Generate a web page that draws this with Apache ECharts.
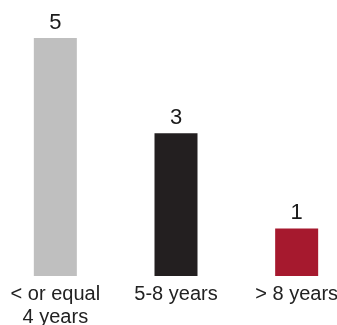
<!DOCTYPE html>
<html>
<head>
<meta charset="utf-8">
<script src="https://cdn.jsdelivr.net/npm/echarts@6/dist/echarts.min.js"></script>
<style>
  html, body { margin: 0; padding: 0; background: #fff; }
  #container { width: 337px; height: 325px; }
</style>
</head>
<body>
<div id="container"></div>
<script>
var categories = ['< or equal\n4 years', '5-8 years', '> 8 years'];
var values = [5, 3, 1];
var barColors = ['#bfbfbf', '#231f20', '#a6192e'];

var dom = document.getElementById('container');
var myChart = echarts.init(dom);

var option = {
    animation: false,
    textStyle: { fontFamily: '"Liberation Sans", Arial, sans-serif' },
    grid: {
        left: -5,
        right: -20,
        top: 38,
        bottom: 49,
        outerBoundsMode: 'none'
    },
    xAxis: {
        type: 'category',
        data: categories,
        axisLine: { show: false },
        axisTick: { show: false },
        axisLabel: {
            color: '#222',
            fontSize: 20,
            lineHeight: 23,
            margin: 7,
            interval: 0
        }
    },
    yAxis: {
        type: 'value',
        min: 0,
        max: 5,
        show: false,
        splitLine: { show: false }
    },
    series: [{
        type: 'bar',
        barWidth: 43,
        data: values.map(function (v, i) {
            return { value: v, itemStyle: { color: barColors[i] } };
        }),
        label: {
            show: true,
            position: 'top',
            distance: 4,
            color: '#1a1a1a',
            fontSize: 22
        }
    }]
};

myChart.setOption(option);
window.onresize = function () { myChart.resize(); };
</script>
</body>
</html>
